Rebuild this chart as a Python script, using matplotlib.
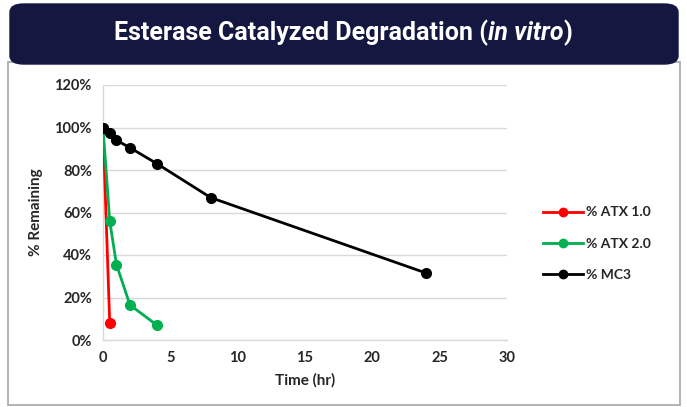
import matplotlib.pyplot as plt
from matplotlib.patches import FancyBboxPatch, Rectangle
from matplotlib.ticker import PercentFormatter

# data
atx1_time = [0, 0.5]
atx1_remaining = [100, 8]
atx2_time = [0, 0.5, 1, 2, 4]
atx2_remaining = [100, 56, 35.5, 16.5, 7]
mc3_time = [0, 0.5, 1, 2, 4, 8, 24]
mc3_remaining = [100, 97.5, 94, 90.5, 83, 67, 31.5]

series_names = ['% ATX 1.0', '% ATX 2.0', '% MC3']
series_colors = ['#FF0000', '#00B050', '#000000']

plt.rcParams['font.family'] = ['Lato', 'DejaVu Sans']

fig = plt.figure(figsize=(6.87, 4.07), dpi=100)

# white panel with grey frame, dark banner on top
fig.patches.append(Rectangle((8 / 687, 0.005), 672 / 687, 1 - 0.005 - 62 / 407,
                             transform=fig.transFigure, facecolor='white',
                             edgecolor='#A6A6A6', linewidth=1.2, zorder=0))
fig.patches.append(FancyBboxPatch((10 / 687, 1 - 64 / 407), 668 / 687, 60 / 407,
                                  boxstyle='round,pad=0,rounding_size=0.02',
                                  transform=fig.transFigure, facecolor='#141841',
                                  edgecolor='#141841', zorder=1))

# title in three pieces so "in vitro" can be italic
title_parts = ['Esterase Catalyzed Degradation (', 'in vitro', ')']
title_styles = ['normal', 'italic', 'normal']
renderer = fig.canvas.get_renderer()
pieces = []
for part, style in zip(title_parts, title_styles):
    pieces.append(fig.text(0, 1 - 33 / 407, part, ha='left', va='center',
                           color='white', fontsize=18, fontweight='bold',
                           fontstyle=style, family=['Roboto', 'DejaVu Sans'],
                           zorder=5))
widths = [p.get_window_extent(renderer).width / fig.bbox.width for p in pieces]
x0 = 0.5 - sum(widths) / 2
for p, w in zip(pieces, widths):
    p.set_x(x0)
    x0 += w

ax = fig.add_axes([103 / 687, 1 - 340 / 407, 404 / 687, 255 / 407])
ax.set_zorder(3)
ax.set_facecolor('none')

all_times = [atx1_time, atx2_time, mc3_time]
all_values = [atx1_remaining, atx2_remaining, mc3_remaining]
for name, color, x, y in zip(series_names, series_colors, all_times, all_values):
    ax.plot(x, y, color=color, linewidth=2, marker='o', markersize=7,
            label=name, zorder=3)

ax.set_xlim(0, 30)
ax.set_ylim(0, 120)
ax.set_xticks(range(0, 31, 5))
ax.set_yticks(range(0, 121, 20))
ax.yaxis.set_major_formatter(PercentFormatter(decimals=0))
ax.grid(axis='y', color='#D9D9D9', linewidth=1)
ax.set_axisbelow(True)
for side in ['top', 'right']:
    ax.spines[side].set_visible(False)
for side in ['left', 'bottom']:
    ax.spines[side].set_color('#D9D9D9')
    ax.spines[side].set_linewidth(1)
ax.tick_params(length=0, labelsize=10.5, colors='#262626', pad=8)
for lbl in ax.get_xticklabels() + ax.get_yticklabels():
    lbl.set_fontweight('bold')

ax.set_xlabel('Time (hr)', fontsize=11, fontweight='bold', color='#262626', labelpad=6)
ax.set_ylabel('% Remaining', fontsize=11, fontweight='bold', color='#262626', labelpad=8)

leg = ax.legend(loc='center left', bbox_to_anchor=(1.057, 0.377), frameon=False,
                fontsize=10, handlelength=2.9, handletextpad=0.2, labelspacing=1.4)
for txt in leg.get_texts():
    txt.set_fontweight('bold')
    txt.set_color('#262626')
for h in leg.legend_handles:
    h.set_markersize(6)

fig.savefig('out.png', dpi=100)
